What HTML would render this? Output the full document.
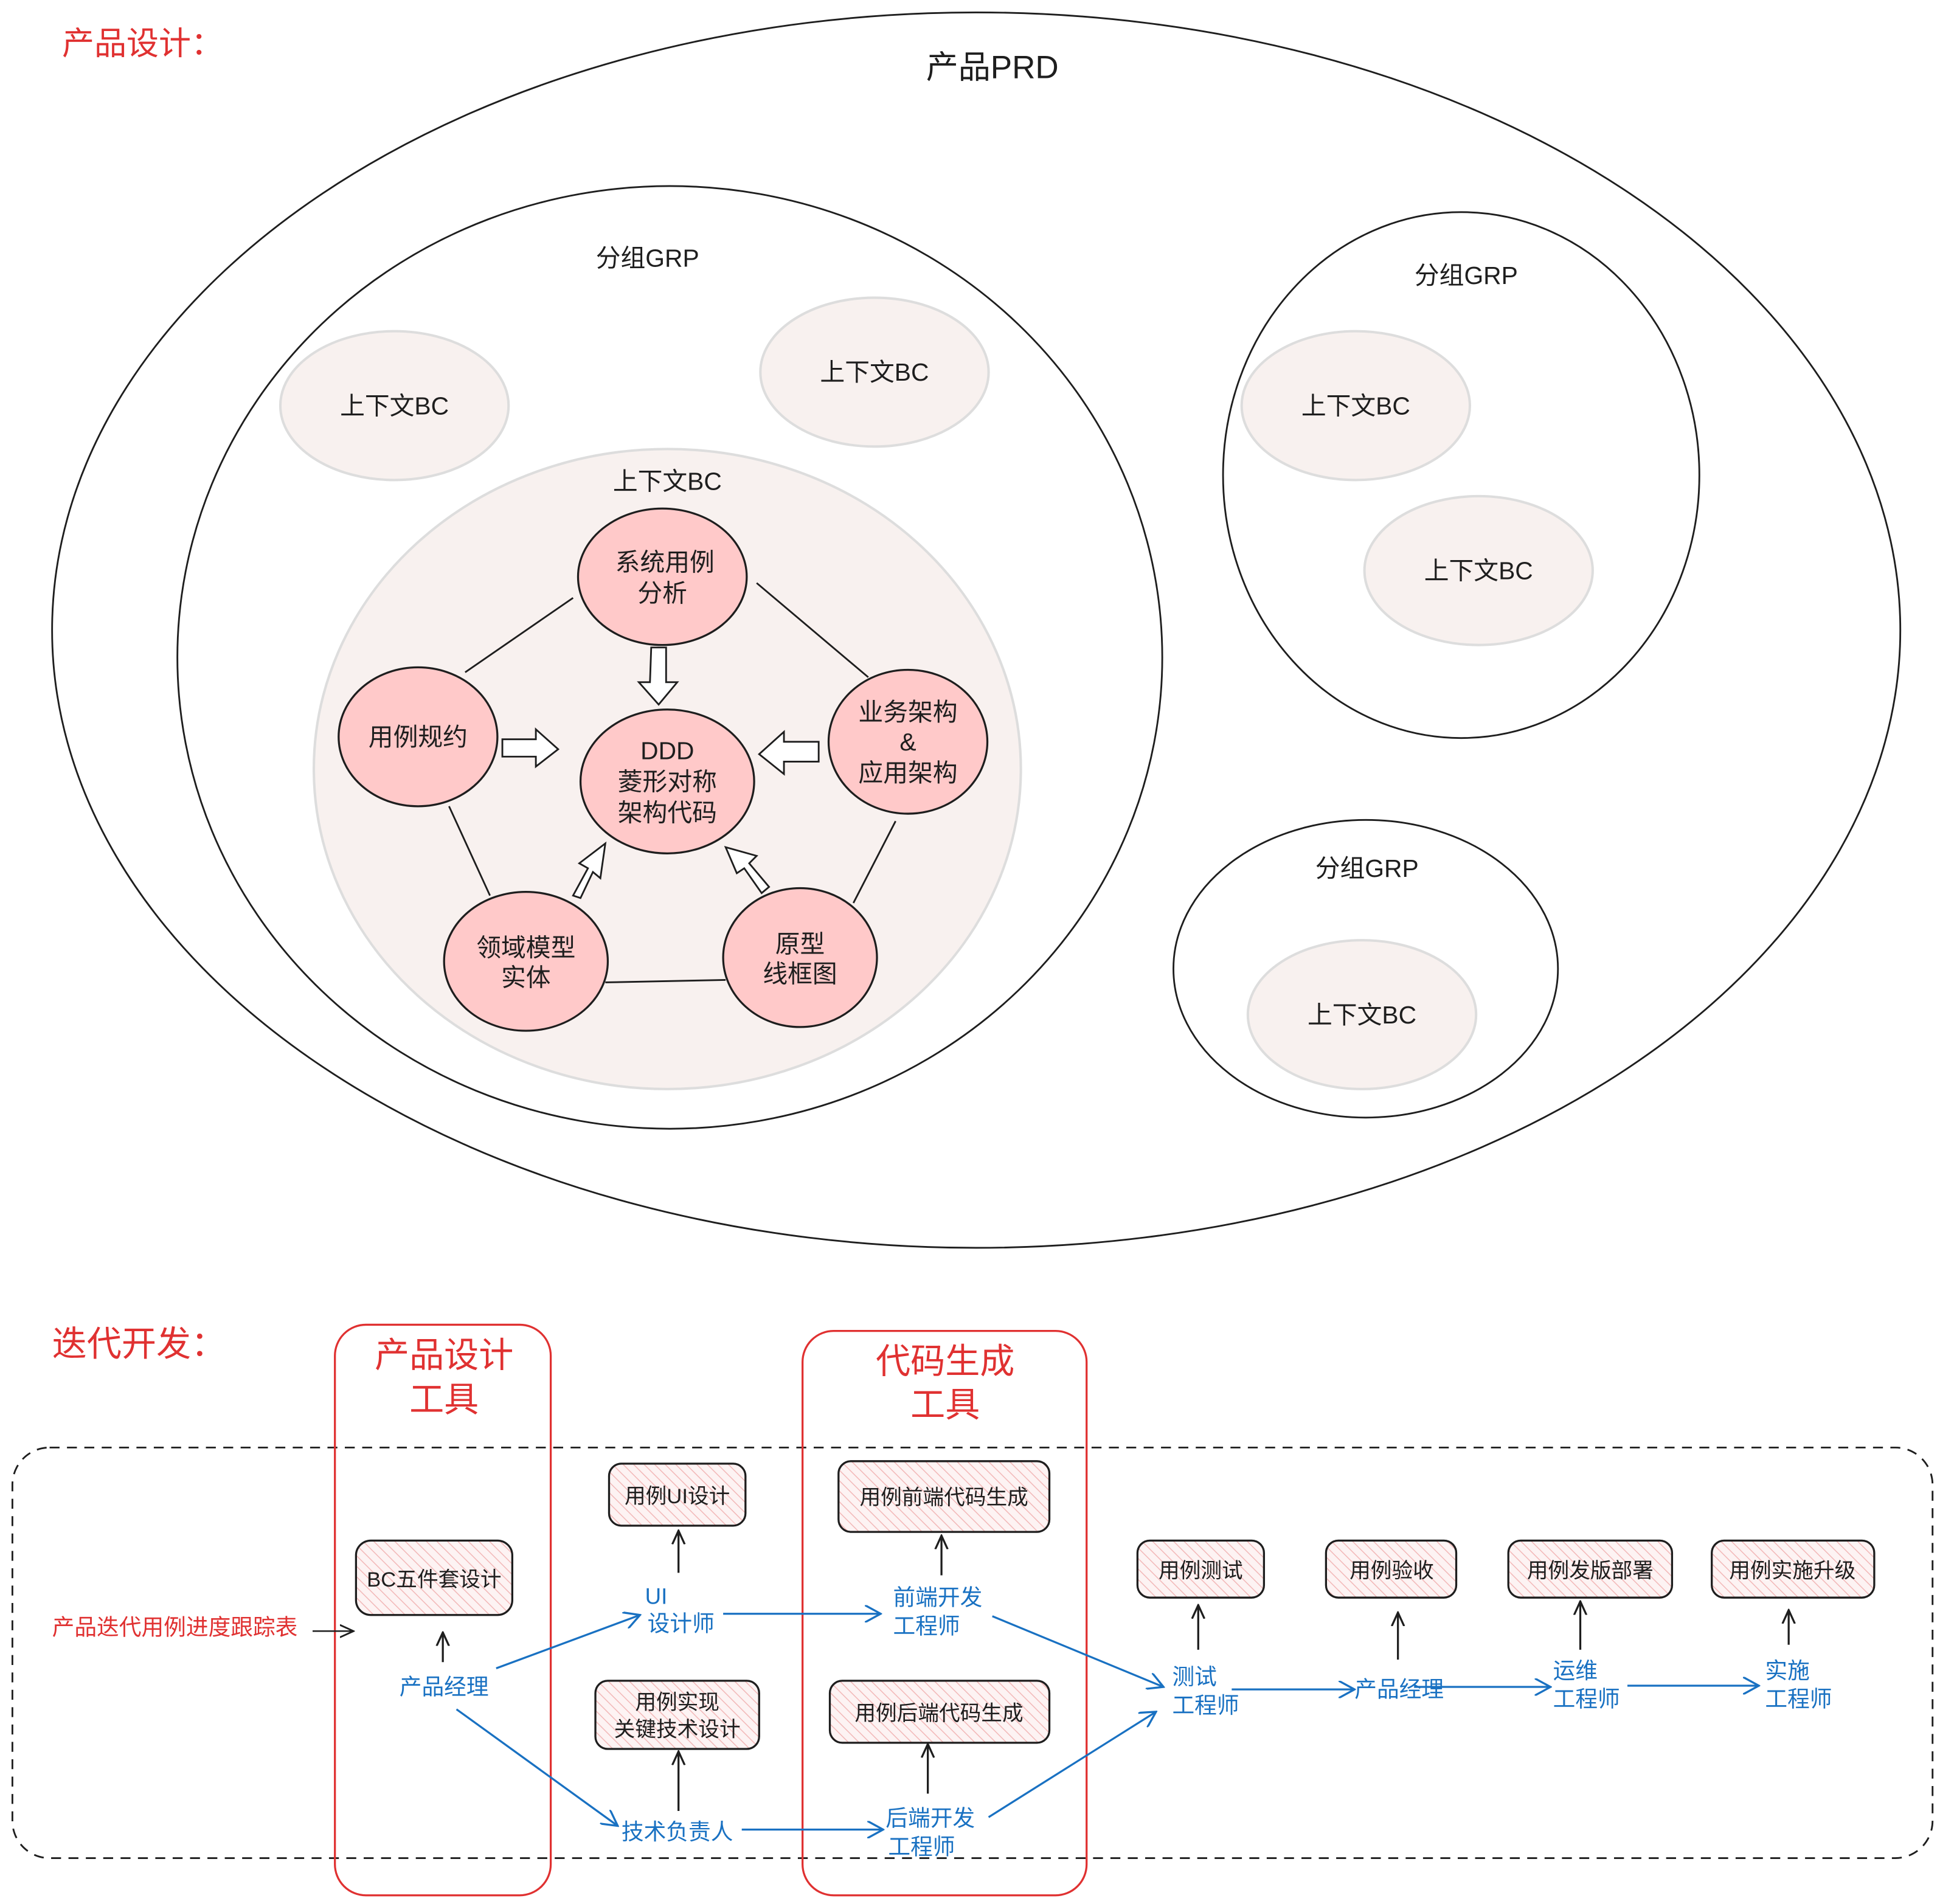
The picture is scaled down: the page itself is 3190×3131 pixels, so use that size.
<!DOCTYPE html>
<html><head><meta charset="utf-8"><style>
html,body{margin:0;padding:0;background:#fff;}
svg{display:block}
text{font-family:"Liberation Sans","Noto Sans CJK SC",sans-serif;}
</style></head><body>
<svg width="3190" height="3131" viewBox="0 0 1564 1535" preserveAspectRatio="none" xmlns="http://www.w3.org/2000/svg">
<defs>
<pattern id="h" width="6" height="6" patternUnits="userSpaceOnUse" patternTransform="rotate(-45)">
<rect width="6" height="6" fill="#fdf3f3"/><line x1="0" y1="0" x2="0" y2="6" stroke="#f2b8b8" stroke-width="1.5"/></pattern>
<marker id="ab" viewBox="0 0 12 12" refX="11" refY="6" markerWidth="14" markerHeight="14" markerUnits="userSpaceOnUse" orient="auto"><path d="M0,0 L11,6 L0,12" fill="none" stroke="#1971c2" stroke-width="1.4"/></marker>
<marker id="ak" viewBox="0 0 12 12" refX="11" refY="6" markerWidth="12" markerHeight="12" markerUnits="userSpaceOnUse" orient="auto"><path d="M0,1 L11,6 L0,11" fill="none" stroke="#1e1e1e" stroke-width="1.6"/></marker>
<marker id="ar" viewBox="0 0 12 12" refX="11" refY="6" markerWidth="12" markerHeight="12" markerUnits="userSpaceOnUse" orient="auto"><path d="M0,1 L11,6 L0,11" fill="none" stroke="#1e1e1e" stroke-width="1.4"/></marker>
</defs>
<g fill="none" stroke="#1e1e1e" stroke-width="1.4">
<ellipse cx="787" cy="508" rx="745" ry="498"/>
<ellipse cx="540" cy="530" rx="397" ry="380"/>
<ellipse cx="1178" cy="383" rx="192" ry="212"/>
<ellipse cx="1101" cy="781" rx="155" ry="120"/>
</g>
<g fill="#f8f1ef" stroke="#ddd" stroke-width="2">
<ellipse cx="318" cy="327" rx="92" ry="60"/>
<ellipse cx="705" cy="300" rx="92" ry="60"/>
<ellipse cx="538" cy="620" rx="285" ry="258"/>
<ellipse cx="1093" cy="327" rx="92" ry="60"/>
<ellipse cx="1192" cy="460" rx="92" ry="60"/>
<ellipse cx="1098" cy="818" rx="92" ry="60"/>
</g>
<g stroke="#1e1e1e" stroke-width="1.4">
<line x1="375" y1="542" x2="462" y2="482"/><line x1="610" y1="470" x2="700" y2="546"/>
<line x1="362" y1="650" x2="395" y2="722"/><line x1="722" y1="662" x2="688" y2="728"/>
<line x1="488" y1="792" x2="585" y2="790"/>
</g>
<g fill="#ffc9c9" stroke="#1e1e1e" stroke-width="1.6">
<ellipse cx="534" cy="465" rx="68" ry="55"/>
<ellipse cx="337" cy="594" rx="64" ry="56"/>
<ellipse cx="538" cy="630" rx="70" ry="58"/>
<ellipse cx="732" cy="598" rx="64" ry="58"/>
<ellipse cx="424" cy="775" rx="66" ry="56"/>
<ellipse cx="645" cy="772" rx="62" ry="56"/>
</g>
<g fill="#fff" stroke="#1e1e1e" stroke-width="1.4">
<path d="M525,522 L537,522 L537,550 L546,550 L531,568 L515,550 L524,550 Z"/>
<path d="M405,596 L432,596 L432,588 L450,604 L432,618 L432,610 L405,610 Z"/>
<path d="M660,598 L632,598 L632,590 L612,608 L632,624 L632,614 L660,614 Z"/>
<path d="M462,722 L474,700 L467,696 L488,680 L484,708 L478,703 L468,724 Z" />
<path d="M614,720 L600,700 L594,704 L585,683 L610,690 L604,696 L620,715 Z"/>
</g>
<g font-size="20" fill="#1e1e1e" text-anchor="middle">
<text x="800" y="63" font-size="26">产品PRD</text>
<text x="522" y="215">分组GRP</text>
<text x="1182" y="229">分组GRP</text>
<text x="1102" y="707">分组GRP</text>
<text x="318" y="334">上下文BC</text>
<text x="705" y="307">上下文BC</text>
<text x="538" y="395">上下文BC</text>
<text x="1093" y="334">上下文BC</text>
<text x="1192" y="467">上下文BC</text>
<text x="1098" y="825">上下文BC</text>
<text x="536" y="460">系统用例</text><text x="534" y="485">分析</text>
<text x="337" y="601">用例规约</text>
<text x="538" y="612">DDD</text><text x="538" y="637">菱形对称</text><text x="538" y="662">架构代码</text>
<text x="732" y="581">业务架构</text><text x="732" y="605">&amp;</text><text x="732" y="630">应用架构</text>
<text x="424" y="771">领域模型</text><text x="424" y="795">实体</text>
<text x="645" y="768">原型</text><text x="645" y="792">线框图</text>
</g>
<text x="50" y="44" font-size="26" fill="#e03131">产品设计：</text>
<text x="42" y="1093" font-size="28" fill="#e03131">迭代开发：</text>
<rect x="10" y="1167" width="1548" height="331" rx="30" fill="none" stroke="#1e1e1e" stroke-width="1.4" stroke-dasharray="8 6"/>
<rect x="270" y="1068" width="174" height="460" rx="25" fill="none" stroke="#e03131" stroke-width="1.6"/>
<rect x="647" y="1073" width="229" height="455" rx="25" fill="none" stroke="#e03131" stroke-width="1.6"/>
<g font-size="28" fill="#e03131" text-anchor="middle">
<text x="358" y="1102">产品设计</text><text x="358" y="1138">工具</text>
<text x="762" y="1107">代码生成</text><text x="762" y="1142">工具</text>
</g>
<g fill="url(#h)" stroke="#1e1e1e" stroke-width="1.6">
<rect x="287" y="1242" width="126" height="60" rx="12"/>
<rect x="491" y="1180" width="110" height="50" rx="10"/>
<rect x="480" y="1355" width="132" height="55" rx="10"/>
<rect x="676" y="1178" width="170" height="57" rx="10"/>
<rect x="669" y="1355" width="177" height="50" rx="10"/>
<rect x="917" y="1242" width="102" height="46" rx="10"/>
<rect x="1069" y="1242" width="105" height="46" rx="10"/>
<rect x="1216" y="1242" width="132" height="46" rx="10"/>
<rect x="1380" y="1242" width="131" height="46" rx="10"/>
</g>
<g font-size="17" fill="#1e1e1e" text-anchor="middle">
<text x="350" y="1279">BC五件套设计</text>
<text x="546" y="1212">用例UI设计</text>
<text x="546" y="1378">用例实现</text><text x="546" y="1400">关键技术设计</text>
<text x="761" y="1213">用例前端代码生成</text>
<text x="757" y="1387">用例后端代码生成</text>
<text x="968" y="1272">用例测试</text>
<text x="1122" y="1272">用例验收</text>
<text x="1282" y="1272">用例发版部署</text>
<text x="1445" y="1272">用例实施升级</text>
</g>
<text x="42" y="1318" font-size="18" fill="#e03131">产品迭代用例进度跟踪表</text>
<line x1="252" y1="1315" x2="285" y2="1315" stroke="#1e1e1e" stroke-width="1.2" marker-end="url(#ar)"/>
<g font-size="18" fill="#1971c2">
<text x="358" y="1366" text-anchor="middle">产品经理</text>
<text x="520" y="1293">UI</text><text x="522" y="1315">设计师</text>
<text x="546" y="1483" text-anchor="middle">技术负责人</text>
<text x="720" y="1294">前端开发</text><text x="720" y="1317">工程师</text>
<text x="714" y="1472">后端开发</text><text x="716" y="1495">工程师</text>
<text x="945" y="1358">测试</text><text x="945" y="1381">工程师</text>
<text x="1128" y="1368" text-anchor="middle">产品经理</text>
<text x="1252" y="1353">运维</text><text x="1252" y="1376">工程师</text>
<text x="1423" y="1353">实施</text><text x="1423" y="1376">工程师</text>
</g>
<g stroke="#1e1e1e" stroke-width="1.6" marker-end="url(#ak)">
<line x1="357" y1="1340" x2="357" y2="1316"/>
<line x1="547" y1="1268" x2="547" y2="1234"/>
<line x1="547" y1="1460" x2="547" y2="1412"/>
<line x1="759" y1="1270" x2="759" y2="1238"/>
<line x1="748" y1="1446" x2="748" y2="1406"/>
<line x1="966" y1="1330" x2="966" y2="1294"/>
<line x1="1127" y1="1338" x2="1127" y2="1300"/>
<line x1="1274" y1="1330" x2="1274" y2="1291"/>
<line x1="1442" y1="1326" x2="1442" y2="1298"/>
</g>
<g stroke="#1971c2" stroke-width="1.6" marker-end="url(#ab)">
<line x1="400" y1="1345" x2="516" y2="1302"/>
<line x1="368" y1="1378" x2="498" y2="1472"/>
<line x1="583" y1="1301" x2="710" y2="1301"/>
<line x1="598" y1="1475" x2="712" y2="1475"/>
<line x1="800" y1="1303" x2="938" y2="1360"/>
<line x1="797" y1="1465" x2="932" y2="1380"/>
<line x1="993" y1="1362" x2="1092" y2="1362"/>
<line x1="1140" y1="1360" x2="1250" y2="1360"/>
<line x1="1312" y1="1359" x2="1418" y2="1359"/>
</g>
</svg>
</body></html>
